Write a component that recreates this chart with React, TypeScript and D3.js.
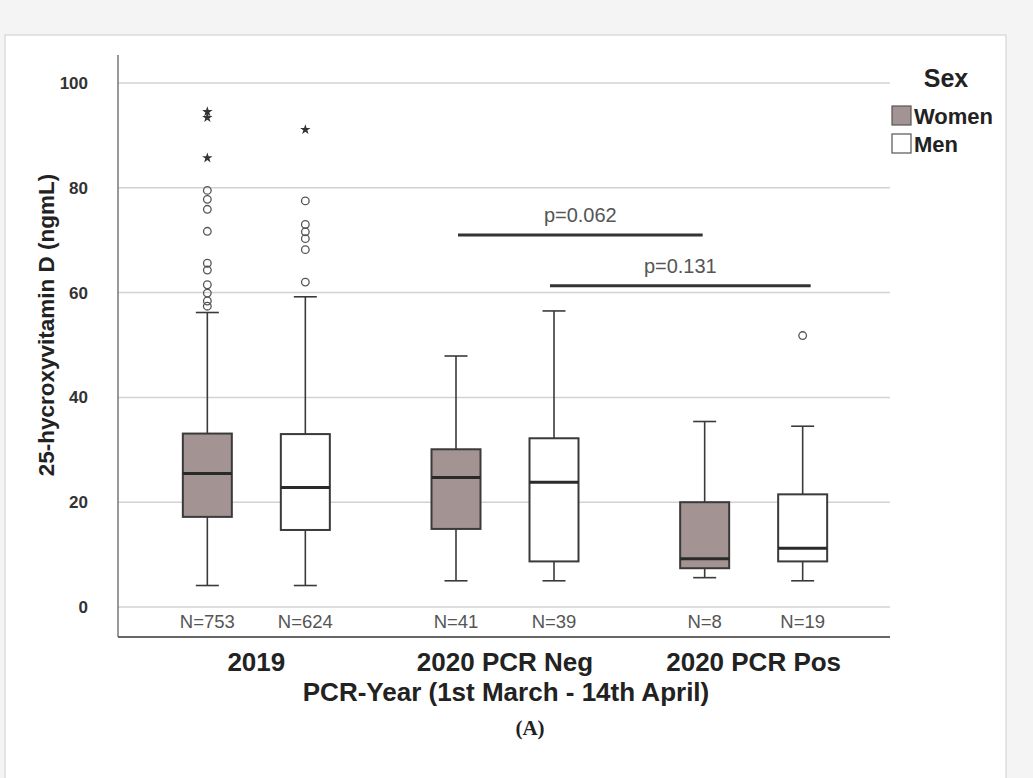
import React from "react";
import * as d3 from "d3";

// chart values
const groups = ["2019", "2020 PCR Neg", "2020 PCR Pos"];
const sexes = ["Women", "Men"];
const boxGroup = ["2019", "2019", "2020 PCR Neg", "2020 PCR Neg", "2020 PCR Pos", "2020 PCR Pos"];
const boxSex = ["Women", "Men", "Women", "Men", "Women", "Men"];
const whiskerLow = [4.1, 4.1, 5.0, 5.0, 5.6, 5.0];
const q1 = [17.2, 14.7, 14.9, 8.7, 7.4, 8.7];
const median = [25.5, 22.8, 24.7, 23.8, 9.2, 11.2];
const q3 = [33.1, 33.0, 30.1, 32.2, 20.0, 21.5];
const whiskerHigh = [56.2, 59.2, 47.9, 56.5, 35.4, 34.5];
const counts = ["N=753", "N=624", "N=41", "N=39", "N=8", "N=19"];
const outliers = [
  { box: 0, values: [79.5, 77.8, 75.9, 71.7, 65.6, 64.3, 61.5, 59.9, 58.4, 57.4] },
  { box: 1, values: [77.5, 73.0, 71.6, 70.3, 68.2, 62.0] },
  { box: 5, values: [51.8] },
];
const extremes = [
  { box: 0, values: [94.5, 93.4, 85.7] },
  { box: 1, values: [91.1] },
];
const yTicks = [0, 20, 40, 60, 80, 100];
const pLabels = ["p=0.062", "p=0.131"];
const pHeights = [71.0, 61.3];

const W = 1033;
const H = 778;
const plot = { left: 118, right: 890, top: 55, bottom: 637 };
const fillColor: Record<string, string> = { Women: "#a39393", Men: "#ffffff" };

export default function App() {
  const y = d3.scaleLinear().domain([0, 100]).range([607, 83]);
  const x = d3.scaleBand().domain(groups).range([132, 878]);
  const xs = d3.scalePoint().domain(sexes).range([-49, 49]);
  const boxW = 49;
  const capW = 23;
  const cx = (i: number) => x(boxGroup[i])! + x.bandwidth() / 2 + xs(boxSex[i])!;
  const star = d3.symbol().type(d3.symbolStar).size(34)()!;

  // p-value brackets: women Neg -> women Pos, men Neg -> men Pos
  const pSpans = [
    [cx(2) + 2, cx(4) - 2],
    [cx(3) - 4, cx(5) + 8],
  ];

  return (
    <svg width={W} height={H} style={{ position: "absolute", left: 0, top: 0 }}
      fontFamily="Liberation Sans, Arial, sans-serif">
      <rect x={0} y={0} width={W} height={H} fill="#f4f4f4" />
      <rect x={5} y={35} width={1001} height={760} fill="#ffffff" stroke="#dcdcdc" strokeWidth={1.5} />

      {/* grid */}
      {yTicks.map((t) => (
        <g key={t}>
          <line x1={plot.left} x2={plot.right} y1={y(t)} y2={y(t)} stroke="#d2d2d2" strokeWidth={1.5} />
          <text x={88} y={y(t)} dy="0.35em" textAnchor="end" fontSize={17} fontWeight="bold" fill="#333">{t}</text>
        </g>
      ))}
      <line x1={plot.left} x2={plot.left} y1={plot.top} y2={plot.bottom} stroke="#777" strokeWidth={1.5} />
      <line x1={plot.left} x2={plot.right} y1={plot.bottom} y2={plot.bottom} stroke="#666" strokeWidth={2} />

      {/* boxes */}
      {boxGroup.map((_, i) => {
        const c = cx(i);
        return (
          <g key={i} stroke="#3a3a3a">
            <line x1={c} x2={c} y1={y(whiskerHigh[i])} y2={y(q3[i])} strokeWidth={1.6} />
            <line x1={c} x2={c} y1={y(q1[i])} y2={y(whiskerLow[i])} strokeWidth={1.6} />
            <line x1={c - capW / 2} x2={c + capW / 2} y1={y(whiskerHigh[i])} y2={y(whiskerHigh[i])} strokeWidth={1.6} />
            <line x1={c - capW / 2} x2={c + capW / 2} y1={y(whiskerLow[i])} y2={y(whiskerLow[i])} strokeWidth={1.6} />
            <rect x={c - boxW / 2} y={y(q3[i])} width={boxW} height={y(q1[i]) - y(q3[i])}
              fill={fillColor[boxSex[i]]} strokeWidth={2} />
            <line x1={c - boxW / 2} x2={c + boxW / 2} y1={y(median[i])} y2={y(median[i])} stroke="#2a2a2a" strokeWidth={3} />
            <text x={c} y={622} dy="0.35em" textAnchor="middle" fontSize={18.5} fill="#555" stroke="none">{counts[i]}</text>
          </g>
        );
      })}

      {/* outliers */}
      {outliers.map((o) =>
        o.values.map((v, j) => (
          <circle key={`${o.box}-${j}`} cx={cx(o.box)} cy={y(v)} r={3.8} fill="none" stroke="#555" strokeWidth={1.3} />
        ))
      )}
      {extremes.map((o) =>
        o.values.map((v, j) => (
          <path key={`${o.box}-e${j}`} d={star} transform={`translate(${cx(o.box)},${y(v)})`} fill="#333" />
        ))
      )}

      {/* significance bars */}
      {pLabels.map((p, i) => (
        <g key={p}>
          <line x1={pSpans[i][0]} x2={pSpans[i][1]} y1={y(pHeights[i])} y2={y(pHeights[i])} stroke="#333" strokeWidth={3} />
          <text x={(pSpans[i][0] + pSpans[i][1]) / 2} y={y(pHeights[i]) - 13} textAnchor="middle" fontSize={20} fill="#555">{p}</text>
        </g>
      ))}

      {/* x axis labels */}
      {groups.map((g) => (
        <text key={g} x={x(g)! + x.bandwidth() / 2} y={671} textAnchor="middle" fontSize={26} fontWeight="bold" fill="#222">{g}</text>
      ))}
      <text x={506} y={701} textAnchor="middle" fontSize={26} fontWeight="bold" fill="#222">PCR-Year (1st March - 14th April)</text>
      <text x={530} y={735} textAnchor="middle" fontSize={21} fontWeight="bold" fill="#222" fontFamily="Liberation Serif, Times New Roman, serif">(A)</text>
      <text transform={`translate(54,325) rotate(-90)`} textAnchor="middle" fontSize={22.5} fontWeight="bold" fill="#222">25-hycroxyvitamin D (ngmL)</text>

      {/* legend */}
      <text x={946} y={87} textAnchor="middle" fontSize={25} fontWeight="bold" fill="#222">Sex</text>
      {sexes.map((s, i) => (
        <g key={s} transform={`translate(892,${106 + i * 28})`}>
          <rect x={0} y={0} width={19} height={19} fill={fillColor[s]} stroke="#555" strokeWidth={1.2} />
          <text x={22} y={18} fontSize={22} fontWeight="bold" fill="#222">{s}</text>
        </g>
      ))}
    </svg>
  );
}
